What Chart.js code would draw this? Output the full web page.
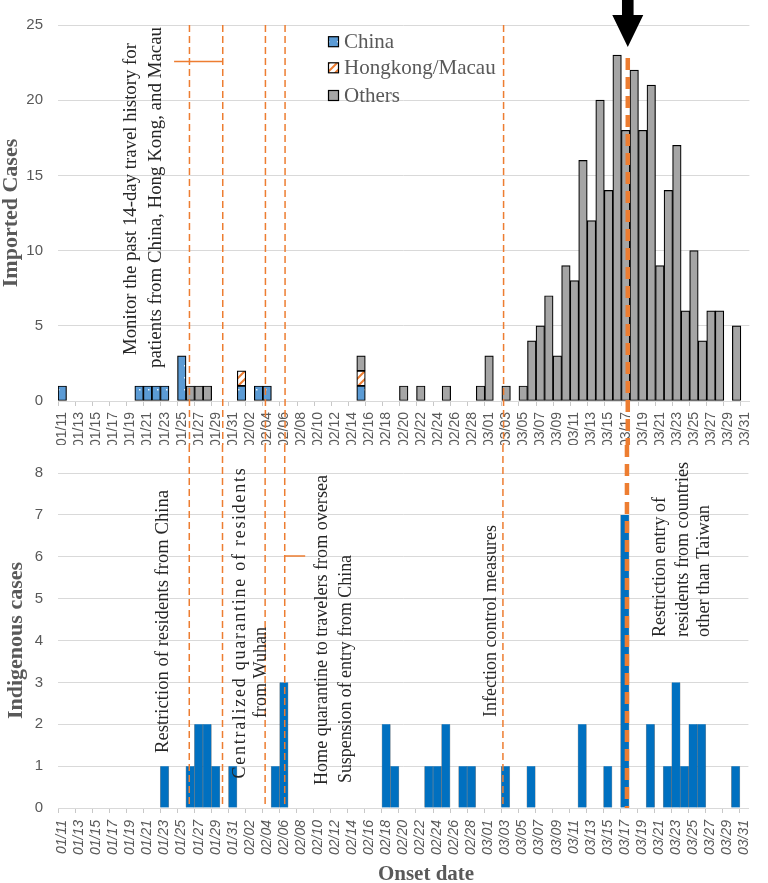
<!DOCTYPE html>
<html>
<head>
<meta charset="utf-8">
<script src="https://cdn.jsdelivr.net/npm/chart.js@4.4.0/dist/chart.umd.min.js"></script>
<style>
  html, body { margin: 0; padding: 0; background: #fff; }
  #wrap { position: relative; width: 768px; height: 883px; }
  #topChart { position: absolute; left: 0; top: 0; }
  #bottomChart { position: absolute; left: 0; top: 445px; }
</style>
</head>
<body>
<div id="wrap">
  <canvas id="topChart" width="768" height="445"></canvas>
  <canvas id="bottomChart" width="768" height="438"></canvas>
</div>
<script>
const onsetDates = [
  "01/11","01/12","01/13","01/14","01/15","01/16","01/17","01/18","01/19","01/20",
  "01/21","01/22","01/23","01/24","01/25","01/26","01/27","01/28","01/29","01/30",
  "01/31","02/01","02/02","02/03","02/04","02/05","02/06","02/07","02/08","02/09",
  "02/10","02/11","02/12","02/13","02/14","02/15","02/16","02/17","02/18","02/19",
  "02/20","02/21","02/22","02/23","02/24","02/25","02/26","02/27","02/28","02/29",
  "03/01","03/02","03/03","03/04","03/05","03/06","03/07","03/08","03/09","03/10",
  "03/11","03/12","03/13","03/14","03/15","03/16","03/17","03/18","03/19","03/20",
  "03/21","03/22","03/23","03/24","03/25","03/26","03/27","03/28","03/29","03/30",
  "03/31"
];

// imported cases by source
const importedChina = [
  1,0,0,0,0,0,0,0,0,1,
  1,1,1,0,3,0,0,0,0,0,
  0,1,0,1,1,0,0,0,0,0,
  0,0,0,0,0,1,0,0,0,0,
  0,0,0,0,0,0,0,0,0,0,
  0,0,0,0,0,0,0,0,0,0,
  0,0,0,0,0,0,0,0,0,0,
  0,0,0,0,0,0,0,0,0,0,
  0
];
const importedHkMacau = [
  0,0,0,0,0,0,0,0,0,0,
  0,0,0,0,0,0,0,0,0,0,
  0,1,0,0,0,0,0,0,0,0,
  0,0,0,0,0,1,0,0,0,0,
  0,0,0,0,0,0,0,0,0,0,
  0,0,0,0,0,0,0,0,0,0,
  0,0,0,0,0,0,0,0,0,0,
  0,0,0,0,0,0,0,0,0,0,
  0
];
const importedOthers = [
  0,0,0,0,0,0,0,0,0,0,
  0,0,0,0,0,1,1,1,0,0,
  0,0,0,0,0,0,0,0,0,0,
  0,0,0,0,0,1,0,0,0,0,
  1,0,1,0,0,1,0,0,0,1,
  3,0,1,0,1,4,5,7,3,9,
  8,16,12,20,14,23,18,22,18,21,
  9,14,17,6,10,4,6,6,0,5,
  0
];
const indigenous = [
  0,0,0,0,0,0,0,0,0,0,
  0,0,1,0,0,1,2,2,1,0,
  1,0,0,0,0,1,3,0,0,0,
  0,0,0,0,0,0,0,0,2,1,
  0,0,0,1,1,2,0,1,1,0,
  0,0,1,0,0,1,0,0,0,0,
  0,2,0,0,1,0,7,0,0,2,
  0,1,3,1,2,2,0,0,0,1,
  0
];

// policy events, in category units from the left edge of the date axis
const policyAt = [15.4, 19.3, 24.3, 26.6, 52.2];
const keyDateAt = 66.75;

const topNotes = [
  "Monitor the past 14-day travel history for",
  "patients from China, Hong Kong, and Macau"
];
const bottomNotes = [
  "Restriction of residents from China",
  "Centralized quarantine of residents",
  "from Wuhan",
  "Home quarantine to travelers from oversea",
  "Suspension of entry from China",
  "Infection control measures",
  "Restriction entry of",
  "residents from countries",
  "other than Taiwan"
];

const grey = "#595959";
const orange = "#ED7D31";
const serif = '"Liberation Serif", "Times New Roman", serif';
const sans = '"Liberation Sans", Arial, sans-serif';

const topCanvas = document.getElementById("topChart");
const bottomCanvas = document.getElementById("bottomChart");

function chinaFill(ctx) {
  const c = document.createElement("canvas");
  c.width = 9; c.height = 12;
  const g = c.getContext("2d");
  g.fillStyle = "#5B9BD5";
  g.fillRect(0, 0, 9, 12);
  g.fillStyle = "#e8f1fa";
  g.fillRect(4, 5, 1.5, 1.5);
  return ctx.createPattern(c, "repeat");
}

function hkFill(ctx) {
  const c = document.createElement("canvas");
  c.width = 8; c.height = 8;
  const g = c.getContext("2d");
  g.fillStyle = "#fff";
  g.fillRect(0, 0, 8, 8);
  g.strokeStyle = orange;
  g.lineWidth = 2;
  g.beginPath();
  g.moveTo(-2, 10); g.lineTo(10, -2);
  g.moveTo(-2, 2); g.lineTo(2, -2);
  g.moveTo(6, 10); g.lineTo(10, 6);
  g.stroke();
  return ctx.createPattern(c, "repeat");
}

// vertical text, reading upwards, fitted to a length (spacing first, then a small stretch)
function vText(ctx, str, x, y, len, font, color) {
  ctx.save();
  ctx.translate(x, y);
  ctx.rotate(-Math.PI / 2);
  ctx.font = font;
  ctx.fillStyle = color;
  ctx.textAlign = "center";
  ctx.textBaseline = "middle";
  let w = ctx.measureText(str).width;
  if (len && len - w > 20 && "letterSpacing" in ctx) {
    ctx.letterSpacing = ((len - w) / str.length).toFixed(2) + "px";
    w = ctx.measureText(str).width;
  }
  if (len) ctx.scale(len / w, 1);
  ctx.fillText(str, 0, 0);
  ctx.restore();
}

function xAt(chart, pos) {
  return chart.scales.x.getPixelForDecimal(pos / onsetDates.length);
}

function vLine(ctx, x, y1, y2, width, dash) {
  ctx.save();
  ctx.strokeStyle = orange;
  ctx.lineWidth = width;
  ctx.setLineDash(dash);
  ctx.beginPath();
  ctx.moveTo(x, y1);
  ctx.lineTo(x, y2);
  ctx.stroke();
  ctx.restore();
}

const topDecor = {
  id: "topDecor",
  afterDraw(chart) {
    const ctx = chart.ctx;
    const h = chart.height;
    const area = chart.chartArea;

    policyAt.forEach(p => vLine(ctx, xAt(chart, p), area.top, h, 1.5, [7, 4]));
    const kx = xAt(chart, keyDateAt);
    vLine(ctx, kx, 58, h, 4.5, [12, 7]);

    // short marker
    ctx.save();
    ctx.strokeStyle = orange;
    ctx.lineWidth = 1.5;
    ctx.beginPath();
    ctx.moveTo(xAt(chart, 13.6), 61.5);
    ctx.lineTo(xAt(chart, 19.3), 61.5);
    ctx.stroke();
    ctx.restore();

    // arrow
    ctx.save();
    ctx.fillStyle = "#000";
    ctx.beginPath();
    ctx.moveTo(kx - 5.8, 0);
    ctx.lineTo(kx + 5.8, 0);
    ctx.lineTo(kx + 5.8, 15);
    ctx.lineTo(kx + 15.5, 15);
    ctx.lineTo(kx, 47);
    ctx.lineTo(kx - 15.5, 15);
    ctx.lineTo(kx - 5.8, 15);
    ctx.closePath();
    ctx.fill();
    ctx.restore();

    vText(ctx, topNotes[0], 131.5, 199, 312, "19px " + serif, "#262626");
    vText(ctx, topNotes[1], 156, 197.5, 341, "19px " + serif, "#262626");

    vText(ctx, "Imported Cases", 11, 213, null, "bold 22px " + serif, grey);

    // legend
    const rows = [41.7, 67.8, 95.5];
    chart.data.datasets.forEach((ds, i) => {
      ctx.save();
      ctx.fillStyle = ds.backgroundColor;
      ctx.fillRect(328.5, rows[i] - 5, 10, 10);
      ctx.strokeStyle = "#000";
      ctx.lineWidth = 1.2;
      ctx.strokeRect(328.5, rows[i] - 5, 10, 10);
      ctx.font = "21px " + serif;
      ctx.fillStyle = grey;
      ctx.textBaseline = "middle";
      ctx.fillText(ds.label, 344, rows[i] + 1);
      ctx.restore();
    });
  }
};

const bottomDecor = {
  id: "bottomDecor",
  afterDraw(chart) {
    const ctx = chart.ctx;
    const area = chart.chartArea;

    policyAt.forEach(p => vLine(ctx, xAt(chart, p), 0, area.bottom, 1.5, [7, 4]));
    vLine(ctx, xAt(chart, keyDateAt), 0, area.bottom, 4.5, [12, 7]);

    ctx.save();
    ctx.strokeStyle = orange;
    ctx.lineWidth = 1.5;
    ctx.beginPath();
    ctx.moveTo(xAt(chart, 26.6), 111);
    ctx.lineTo(xAt(chart, 29), 111);
    ctx.stroke();
    ctx.restore();

    const f = "18px " + serif;
    const c = "#262626";
    vText(ctx, bottomNotes[0], 163.5, 176.5, 263, f, c);
    vText(ctx, bottomNotes[1], 240, 177.5, 312, f, c);
    vText(ctx, bottomNotes[2], 261, 227.5, 91, f, c);
    vText(ctx, bottomNotes[3], 322, 185, 310, f, c);
    vText(ctx, bottomNotes[4], 346, 224, 228, f, c);
    vText(ctx, bottomNotes[5], 491, 176, 192, f, c);
    vText(ctx, bottomNotes[6], 660, 122, 140, f, c);
    vText(ctx, bottomNotes[7], 683, 104.5, 175, f, c);
    vText(ctx, bottomNotes[8], 704, 126, 132, f, c);

    vText(ctx, "Indigenous cases", 16, 195.5, null, "bold 22px " + serif, grey);

    ctx.save();
    ctx.font = "bold 21px " + serif;
    ctx.fillStyle = grey;
    ctx.textAlign = "center";
    ctx.textBaseline = "alphabetic";
    ctx.fillText("Onset date", 426, 435);
    ctx.restore();
  }
};

function xScale(height, italic, pad) {
  return {
    stacked: true,
    afterFit: s => { s.height = height; },
    border: { color: "#d9d9d9" },
    grid: {
      drawOnChartArea: false,
      drawTicks: true,
      tickLength: 5,
      color: c => (c.index % 2 === 0 ? "#c8c8c8" : "rgba(0,0,0,0)")
    },
    ticks: {
      autoSkip: false,
      minRotation: 90,
      maxRotation: 90,
      padding: pad,
      color: grey,
      font: { family: sans, size: 14, style: italic ? "italic" : "normal" },
      callback: function (v, i) {
        return i % 2 === 0 ? this.getLabelForValue(v) : "";
      }
    }
  };
}

function yScale(max, step) {
  return {
    stacked: true,
    min: 0,
    max: max,
    afterFit: s => { s.width = 58; },
    border: { display: false },
    grid: { color: "#d9d9d9", drawTicks: false },
    ticks: { stepSize: step, padding: 15, color: grey, font: { family: sans, size: 15 } }
  };
}

const nz = arr => arr.map(v => (v === 0 ? null : v));
const tctx = topCanvas.getContext("2d");

new Chart(topCanvas, {
  type: "bar",
  data: {
    labels: onsetDates,
    datasets: [
      { label: "China", data: nz(importedChina), backgroundColor: chinaFill(tctx) },
      { label: "Hongkong/Macau", data: nz(importedHkMacau), backgroundColor: hkFill(tctx) },
      { label: "Others", data: nz(importedOthers), backgroundColor: "#A5A5A5" }
    ]
  },
  options: {
    responsive: false,
    animation: false,
    devicePixelRatio: 1,
    layout: { padding: { top: 25, right: 8, left: 0, bottom: 0 } },
    datasets: {
      bar: { barPercentage: 1, categoryPercentage: 1, borderColor: "#000", borderWidth: 1.2, borderSkipped: false }
    },
    plugins: { legend: { display: false }, tooltip: { enabled: false } },
    scales: { x: xScale(44, false, 6), y: yScale(25, 5) }
  },
  plugins: [topDecor]
});

new Chart(bottomCanvas, {
  type: "bar",
  data: {
    labels: onsetDates,
    datasets: [
      { label: "Indigenous", data: nz(indigenous), backgroundColor: "#0070C0",
        borderColor: "rgba(60,60,60,0.55)", borderWidth: { left: 0.6, right: 0.6, top: 0, bottom: 0 }, borderSkipped: false }
    ]
  },
  options: {
    responsive: false,
    animation: false,
    devicePixelRatio: 1,
    layout: { padding: { top: 28, right: 8, left: 0, bottom: 0 } },
    datasets: { bar: { barPercentage: 1, categoryPercentage: 1 } },
    plugins: { legend: { display: false }, tooltip: { enabled: false } },
    scales: { x: xScale(75, true, 7), y: yScale(8, 1) }
  },
  plugins: [bottomDecor]
});
</script>
</body>
</html>
